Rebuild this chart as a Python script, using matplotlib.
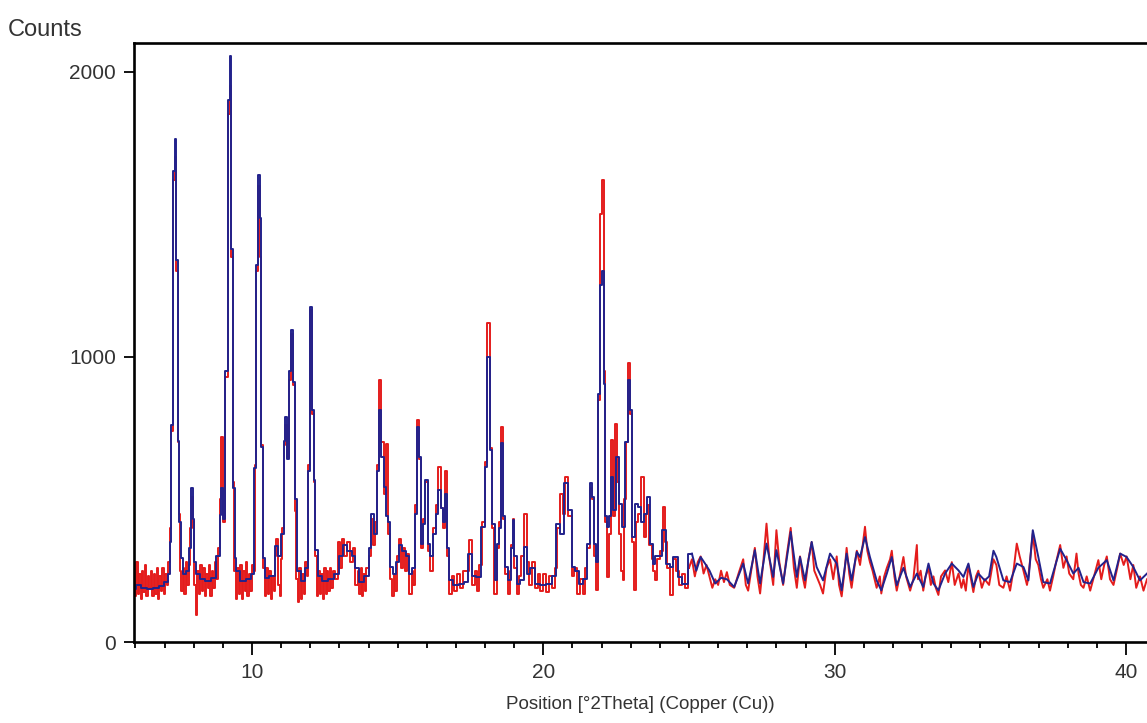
import matplotlib
matplotlib.use('Agg')
import matplotlib.pyplot as plt
from matplotlib.ticker import MultipleLocator

plt.rcParams['font.family'] = ['Liberation Sans', 'DejaVu Sans']

# blue pattern, (2theta, counts)
blue_low = [(5.95,185),(6.1,200),(6.3,190),(6.5,185),(6.7,190),(6.9,195),(7.05,210),(7.15,240),(7.2,350),(7.27,760),
    (7.32,1650),(7.37,1765),(7.42,1340),(7.47,705),(7.52,420),(7.58,295),(7.68,240),(7.78,250),(7.88,330),(7.95,540),
    (8.0,430),(8.05,280),(8.12,240),(8.3,220),(8.5,215),(8.7,225),(8.85,300),(8.92,445),(8.98,540),(9.05,430),
    (9.12,950),(9.2,1900),(9.27,2055),(9.32,1377),(9.37,540),(9.43,295),(9.5,250),(9.7,215),(9.9,220),(10.05,240),
    (10.12,610),(10.18,1320),(10.25,1637),(10.3,1486),(10.35,685),(10.42,295),(10.5,225),(10.7,230),(10.86,335),(10.95,300),
    (11.05,380),(11.12,705),(11.17,790),(11.23,640),(11.3,950),(11.38,1094),(11.45,910),(11.5,500),(11.6,250),(11.75,215),
    (11.9,260),(11.97,600),(12.04,1175),(12.1,813),(12.15,567),(12.2,322),(12.3,230),(12.5,215),(12.7,220),(12.9,240)]
blue_mid = [(13.05,300),(13.2,340),(13.35,320),(13.5,300),(13.6,260),(13.75,210),(13.95,230),(14.05,330),(14.14,450),(14.25,380),
    (14.33,600),(14.41,813),(14.48,650),(14.55,545),(14.62,440),(14.7,420),(14.78,263),(14.9,240),(15.0,280),(15.1,340),
    (15.2,320),(15.35,300),(15.45,240),(15.55,260),(15.65,450),(15.7,754),(15.76,650),(15.83,345),(15.9,415),(15.99,567),
    (16.08,345),(16.15,300),(16.25,380),(16.35,450),(16.45,532),(16.5,470),(16.58,420),(16.65,520),(16.72,330),(16.8,216),
    (17.0,200),(17.2,205),(17.35,210),(17.5,310),(17.6,230),(17.75,228),(17.94,403),(18.03,614),(18.11,1000),(18.2,672),
    (18.28,415),(18.38,216),(18.45,345),(18.52,400),(18.57,696),(18.65,440),(18.74,263),(18.83,216),(18.92,330),(18.97,427),
    (19.05,300),(19.12,205),(19.25,216),(19.4,333),(19.5,240),(19.6,260),(19.8,205),(20.0,200),(20.2,205),(20.4,230),
    (20.5,415),(20.63,380),(20.8,556),(20.92,462),(21.03,263),(21.15,250),(21.3,205),(21.45,220),(21.55,345),(21.64,556),
    (21.72,508),(21.78,345),(21.84,280),(21.92,871),(22.0,1250),(22.04,1300),(22.1,906),(22.15,440),(22.22,404),(22.3,440),
    (22.35,579),(22.43,462),(22.55,650),(22.63,485),(22.74,404),(22.85,700),(22.95,918),(23.02,813),(23.08,368),(23.2,485),
    (23.3,474),(23.41,420),(23.52,450),(23.6,509),(23.72,345),(23.8,275),(23.87,300),(24.0,300),(24.15,392),(24.3,275),
    (24.4,263),(24.52,298),(24.7,228),(24.85,205)]
blue_high = [(25.1,310),(25.25,250),(25.4,298),(25.55,275),(25.7,251),(25.9,205),(26.1,225),(26.3,220),(26.55,193),(26.86,275),
    (27.03,205),(27.26,322),(27.44,205),(27.66,345),(27.89,228),(28.0,322),(28.23,205),(28.49,386),(28.7,228),(28.81,298),
    (28.98,216),(29.21,351),(29.38,263),(29.6,216),(29.84,310),(30.07,275),(30.24,181),(30.41,310),(30.58,216),(30.76,316),
    (30.87,298),(31.04,368),(31.21,298),(31.44,216),(31.6,181),(31.79,240),(31.96,298),(32.13,199),(32.36,260),(32.59,193),
    (32.82,240),(33.04,193),(33.22,275),(33.39,205),(33.56,181),(33.79,240),(34.02,275),(34.25,251),(34.42,228),(34.59,275),
    (34.76,193),(34.93,240),(35.15,216),(35.3,230),(35.45,320),(35.55,298),(35.79,216),(36.02,210),(36.25,275),(36.48,263),
    (36.65,216),(36.8,392),(36.99,298),(37.16,210),(37.39,205),(37.74,327),(37.96,287),(38.19,240),(38.37,260),(38.54,210),
    (38.77,205),(39.05,260),(39.34,287),(39.57,216),(39.8,310),(40.02,298),(40.25,263),(40.48,216),(40.72,240)]

# red pattern
red_low = [(5.95,230),(6.0,160),(6.05,280),(6.1,170),(6.15,240),(6.2,150),(6.25,250),(6.3,175),(6.35,270),(6.4,160),
    (6.45,230),(6.5,190),(6.55,250),(6.6,160),(6.65,240),(6.7,170),(6.75,260),(6.8,150),(6.85,230),(6.9,180),
    (6.95,260),(7.0,170),(7.05,240),(7.1,200),(7.15,280),(7.2,400),(7.27,740),(7.32,1620),(7.37,1700),(7.42,1300),
    (7.47,700),(7.52,450),(7.56,250),(7.6,180),(7.65,260),(7.7,170),(7.75,280),(7.8,200),(7.85,270),(7.9,400),
    (7.95,510),(8.0,420),(8.05,200),(8.1,95),(8.15,250),(8.2,170),(8.25,270),(8.3,180),(8.35,260),(8.4,160),
    (8.45,240),(8.5,190),(8.55,270),(8.6,160),(8.65,250),(8.7,190),(8.75,280),(8.8,220),(8.85,330),(8.92,500),
    (8.98,720),(9.05,420),(9.12,930),(9.2,1850),(9.27,1950),(9.32,1350),(9.37,560),(9.42,250),(9.47,150),(9.52,260),
    (9.57,170),(9.62,270),(9.67,150),(9.72,250),(9.77,180),(9.82,280),(9.87,160),(9.92,240),(9.97,180),(10.02,270),
    (10.07,250),(10.12,620),(10.18,1300),(10.25,1600),(10.3,1350),(10.35,690),(10.42,260),(10.47,160),(10.52,260),(10.57,170),
    (10.62,250),(10.67,150),(10.72,230),(10.77,180),(10.82,300),(10.86,360),(10.92,200),(10.97,160),(11.02,290),(11.07,400),
    (11.12,690),(11.17,760),(11.23,650),(11.3,920),(11.38,1080),(11.45,900),(11.5,460),(11.55,220),(11.6,140),(11.65,260),
    (11.7,150),(11.75,240),(11.8,170),(11.85,280),(11.9,230),(11.97,620),(12.04,1165),(12.1,800),(12.15,560),(12.2,300),
    (12.25,160),(12.3,250),(12.35,170),(12.4,240),(12.45,150),(12.5,260),(12.55,170),(12.6,250),(12.65,180),(12.7,260),
    (12.75,190),(12.8,250),(12.9,220)]
red_mid = [(13.0,350),(13.05,260),(13.1,360),(13.2,300),(13.3,350),(13.4,280),(13.5,330),(13.6,200),(13.65,250),(13.7,170),
    (13.75,260),(13.8,160),(13.85,240),(13.9,180),(13.95,260),(14.05,300),(14.14,430),(14.2,340),(14.25,420),(14.33,620),
    (14.41,918),(14.48,700),(14.55,520),(14.62,695),(14.7,380),(14.78,220),(14.85,160),(14.9,240),(14.95,180),(15.0,300),
    (15.1,360),(15.15,260),(15.2,330),(15.3,250),(15.35,310),(15.45,170),(15.5,250),(15.55,200),(15.65,480),(15.7,778),
    (15.76,640),(15.83,330),(15.9,430),(15.99,560),(16.08,320),(16.15,250),(16.25,400),(16.35,480),(16.45,614),(16.5,470),
    (16.58,400),(16.65,600),(16.72,300),(16.8,170),(16.9,230),(17.0,180),(17.1,240),(17.2,190),(17.3,250),(17.4,250),
    (17.5,357),(17.6,200),(17.7,250),(17.75,180),(17.85,270),(17.94,420),(18.03,630),(18.11,1117),(18.2,680),(18.28,400),
    (18.35,170),(18.45,330),(18.52,420),(18.57,754),(18.65,430),(18.74,240),(18.8,170),(18.88,250),(18.92,340),(18.97,430),
    (19.05,260),(19.12,170),(19.2,230),(19.3,300),(19.4,450),(19.47,280),(19.55,200),(19.65,280),(19.75,190),(19.85,240),
    (19.95,180),(20.05,240),(20.15,175),(20.25,230),(20.35,190),(20.45,260),(20.5,400),(20.63,520),(20.72,450),(20.8,579),
    (20.92,440),(21.03,230),(21.1,260),(21.2,170),(21.3,220),(21.4,170),(21.48,260),(21.55,330),(21.64,540),(21.72,500),
    (21.78,300),(21.83,181),(21.92,850),(22.0,1500),(22.04,1620),(22.1,950),(22.15,420),(22.22,228),(22.3,380),(22.35,708),
    (22.43,440),(22.5,766),(22.57,560),(22.63,380),(22.7,250),(22.74,216),(22.8,500),(22.85,700),(22.95,977),(23.02,800),
    (23.08,350),(23.15,181),(23.22,420),(23.3,450),(23.41,579),(23.48,368),(23.55,450),(23.6,480),(23.68,340),(23.75,290),
    (23.8,250),(23.87,216),(23.95,290),(24.05,320),(24.15,474),(24.22,350),(24.3,260),(24.4,164),(24.5,290),(24.6,250),
    (24.7,200),(24.8,240),(24.9,190)]
red_high = [(25.0,260),(25.1,290),(25.2,230),(25.3,280),(25.4,300),(25.5,240),(25.6,270),(25.7,230),(25.8,190),(25.9,220),
    (26.0,200),(26.1,250),(26.2,210),(26.3,245),(26.4,200),(26.55,190),(26.7,240),(26.86,290),(26.95,200),(27.03,180),
    (27.15,260),(27.26,330),(27.35,230),(27.44,170),(27.55,280),(27.66,415),(27.75,300),(27.89,200),(28.0,392),(28.1,280),
    (28.23,200),(28.35,300),(28.49,400),(28.6,260),(28.7,190),(28.81,300),(28.9,230),(28.98,190),(29.1,290),(29.21,350),
    (29.3,250),(29.38,230),(29.5,200),(29.6,170),(29.72,260),(29.84,290),(29.95,220),(30.07,300),(30.15,200),(30.24,160),
    (30.35,260),(30.41,330),(30.5,240),(30.58,190),(30.7,280),(30.76,320),(30.87,270),(30.95,330),(31.04,404),(31.12,320),
    (31.21,280),(31.3,250),(31.44,190),(31.55,230),(31.6,170),(31.7,230),(31.79,260),(31.9,290),(31.96,320),(32.05,230),
    (32.13,180),(32.25,240),(32.36,298),(32.45,230),(32.59,180),(32.7,220),(32.82,340),(32.86,220),(32.95,250),(33.04,180),
    (33.12,230),(33.22,260),(33.3,200),(33.39,230),(33.47,190),(33.56,165),(33.65,230),(33.79,251),(33.9,210),(34.02,280),
    (34.12,200),(34.25,240),(34.35,190),(34.42,220),(34.5,180),(34.59,270),(34.68,220),(34.76,175),(34.85,230),(34.93,250),
    (35.05,190),(35.15,220),(35.3,200),(35.45,290),(35.55,270),(35.65,200),(35.79,190),(35.9,230),(36.02,180),(36.15,260),
    (36.25,345),(36.35,300),(36.48,250),(36.6,200),(36.65,230),(36.8,380),(36.9,290),(36.99,270),(37.08,220),(37.16,190),
    (37.3,220),(37.39,180),(37.5,230),(37.6,280),(37.74,340),(37.85,260),(37.96,300),(38.05,240),(38.19,220),(38.3,310),
    (38.37,240),(38.45,200),(38.54,190),(38.65,230),(38.77,180),(38.9,230),(39.05,287),(39.15,220),(39.25,270),(39.34,300),
    (39.45,220),(39.57,200),(39.7,260),(39.8,310),(39.92,270),(40.02,300),(40.15,220),(40.25,270),(40.35,190),(40.48,230),
    (40.6,180),(40.72,220)]

y_ticks = [0, 1000, 2000]
x_ticks = [10, 20, 30, 40]

RED = '#e41c1c'
BLUE = '#22228c'

fig = plt.figure(figsize=(11.47, 7.23), dpi=100)
ax = fig.add_axes([134/1147, 1 - 642/723, 1 - 134/1147, (642 - 43)/723])

# peak region as steps, flat tail as a plain line (joined at the seam)
for pts, col in [(red_low + red_mid + red_high[:1], RED), (blue_low + blue_mid + blue_high[:1], BLUE)]:
    xs, ys = zip(*pts)
    ax.plot(xs, ys, color=col, lw=1.4, drawstyle='steps-mid', zorder=2 if col == BLUE else 1)
for pts, col in [(red_high, RED), (blue_high, BLUE)]:
    xs, ys = zip(*pts)
    ax.plot(xs, ys, color=col, lw=1.4, zorder=2 if col == BLUE else 1)

ax.set_xlim(5.95, 40.72)
ax.set_ylim(0, 2100)
ax.set_xticks(x_ticks)
ax.set_yticks(y_ticks)
ax.xaxis.set_minor_locator(MultipleLocator(1))

for s in ['left', 'bottom', 'top']:
    ax.spines[s].set_linewidth(1.9)
ax.spines['right'].set_visible(False)

ax.tick_params(axis='x', which='major', length=9, width=1.3, pad=6, labelsize=15, labelcolor='#333333', direction='out')
ax.tick_params(axis='x', which='minor', length=4, width=1.3, direction='out')
ax.tick_params(axis='y', which='major', length=7, width=1.3, pad=6, labelsize=15, labelcolor='#333333', direction='out')

ax.set_xlabel('Position [°2Theta] (Copper (Cu))', fontsize=13.5, color='#333333', labelpad=10)
fig.text(8/1147, 1 - 30/723, 'Counts', fontsize=17, color='#333333', va='center', ha='left')

fig.savefig('out.png', dpi=100)
